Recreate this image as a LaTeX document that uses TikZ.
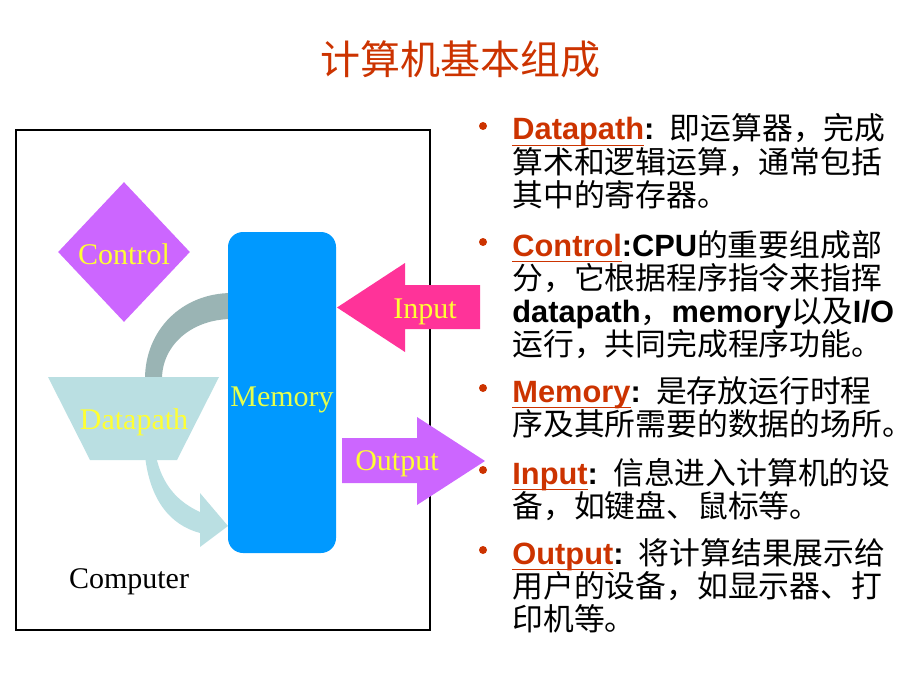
\documentclass[tikz,border=0pt]{standalone}
\usepackage{fontspec}
\usepackage{xcolor}
\usetikzlibrary{shapes.geometric}
\setmainfont{Liberation Serif}
\newfontfamily\arialf{Liberation Sans}
\newfontfamily\cjk{Noto Sans CJK SC}
\definecolor{keyred}{HTML}{CC3300}
\definecolor{ctrlviolet}{HTML}{CC66FF}
\definecolor{memblue}{HTML}{0099FF}
\definecolor{dpcyan}{HTML}{BADFE2}
\definecolor{bandgray}{HTML}{9AB4B4}
\definecolor{inpink}{HTML}{FF3399}
\definecolor{labyellow}{HTML}{FFFF33}
\definecolor{memyellow}{HTML}{E6FF4D}
\newcommand\kw[1]{\sbox0{\color{keyred}\arialf\bfseries #1}{\color{keyred}\rlap{\rule[-3pt]{\wd0}{0.7pt}}}\usebox0}
\newcommand\bl[1]{{\arialf\bfseries #1}}

\tikzset{
  lab/.style={font=\fontsize{15}{18}\selectfont, text=labyellow, inner sep=0pt},
  para/.style={anchor=base west, inner sep=0pt, text width=230pt, align=left,
    font=\cjk\fontsize{15.4}{16.6}\selectfont},
  bul/.style={circle, fill=keyred, inner sep=0pt, minimum size=4pt}
}

\begin{document}
\begin{tikzpicture}[x=0.5pt,y=-0.5pt]
\useasboundingbox (0,0) rectangle (920,690);

\node[font=\cjk\fontsize{20}{24}\selectfont, text=keyred] (title) at (460,59) {计算机基本组成};

\draw[line width=0.75pt] (16,130) rectangle (430,630);

\fill[bandgray] (145,379) .. controls (145,330) and (182,293) .. (232,293)
  -- (232,319) .. controls (192,319) and (162,345) .. (162,379) -- cycle;
\fill[dpcyan] (145,456) .. controls (150,500) and (170,525) .. (200,533)
  -- (200,547) -- (228,526) -- (200,493) -- (200,512)
  .. controls (178,502) and (162,485) .. (156,456) -- cycle;
\fill[dpcyan] (48,377) -- (219,377) -- (177,460) -- (90,460) -- cycle;
\node[lab] (dp) at (134,422) {Datapath};

\node[rectangle, rounded corners=7.5pt, fill=memblue, minimum width=54pt,
  minimum height=160.5pt, inner sep=0pt, font=\fontsize{15}{18}\selectfont,
  text=memyellow] (mem) at (282,392.5) {\raisebox{-3.5pt}[\height][\depth]{Memory}};

\node[diamond, fill=ctrlviolet, minimum width=66pt, minimum height=70pt,
  inner sep=0pt, lab] (ctrl) at (124,252) {\raisebox{-1pt}[\height][\depth]{Control}};

\fill[inpink] (337,307.5) -- (405,263) -- (405,285) -- (480,285) -- (480,329)
  -- (405,329) -- (405,352) -- cycle;
\node[lab] (inp) at (425,312) {Input};

\fill[ctrlviolet] (342,438) -- (417,438) -- (417,417) -- (485,461) -- (417,505)
  -- (417,483) -- (342,483) -- cycle;
\node[lab] (outp) at (397,464) {Output};

\node[font=\fontsize{15}{18}\selectfont, inner sep=0pt] (comp) at (129,582) {Computer};

\node[bul] (b1) at (483,126) {};
\node[bul] (b2) at (483,242) {};
\node[bul] (b3) at (483,388) {};
\node[bul] (b4) at (483,470) {};
\node[bul] (b5) at (483,550) {};

\node[para] (t1) at (512,140) {\kw{Datapath}\bl{: }即运算器，完成\\算术和逻辑运算，通常包括\\其中的寄存器。};
\node[para] (t2) at (512,256) {\kw{Control}\bl{:CPU}的重要组成部\\分，它根据程序指令来指挥\\\bl{datapath}，\bl{memory}以及\bl{I/O}\\运行，共同完成程序功能。};
\node[para] (t3) at (512,402) {\kw{Memory}\bl{: }是存放运行时程\\序及其所需要的数据的场所。};
\node[para] (t4) at (512,484) {\kw{Input}\bl{: }信息进入计算机的设\\备，如键盘、鼠标等。};
\node[para] (t5) at (512,564) {\kw{Output}\bl{: }将计算结果展示给\\用户的设备，如显示器、打\\印机等。};

\end{tikzpicture}
\end{document}
